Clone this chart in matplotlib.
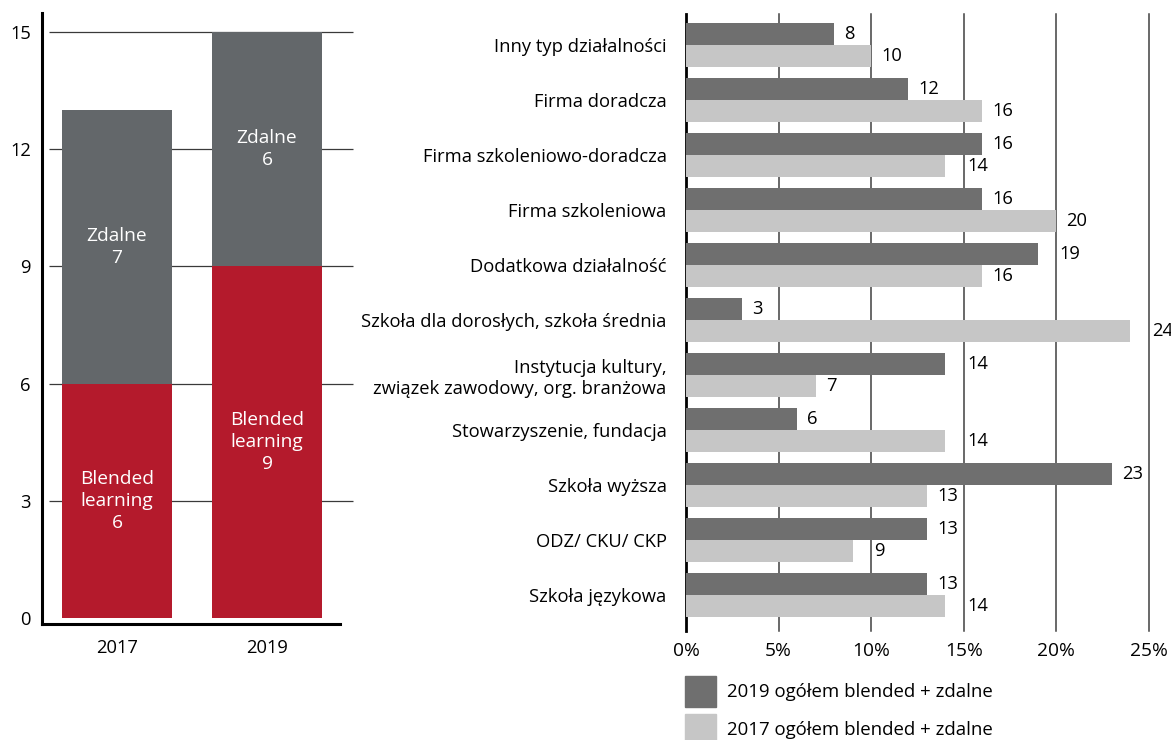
import math
import matplotlib
matplotlib.use('Agg')
import matplotlib.pyplot as plt
from matplotlib.patches import Rectangle
import numpy as np

plt.rcParams['font.family'] = ['Open Sans', 'DejaVu Sans']

# lewy wykres: liczba form kształcenia
lata = ['2017', '2019']
blended = [6, 9]
zdalne = [7, 6]

# prawy wykres: typ instytucji (%)
kategorie = [
    'Inny typ działalności',
    'Firma doradcza',
    'Firma szkoleniowo-doradcza',
    'Firma szkoleniowa',
    'Dodatkowa działalność',
    'Szkoła dla dorosłych, szkoła średnia',
    'Instytucja kultury,\nzwiązek zawodowy, org. branżowa',
    'Stowarzyszenie, fundacja',
    'Szkoła wyższa',
    'ODZ/ CKU/ CKP',
    'Szkoła językowa',
]
proc_2019 = [8, 12, 16, 16, 19, 3, 14, 6, 23, 13, 13]
proc_2017 = [10, 16, 14, 20, 16, 24, 7, 14, 13, 9, 14]
serie = ['2019 ogółem blended + zdalne', '2017 ogółem blended + zdalne']

czerwony = '#b41a2c'
szary = '#63676a'
ciemny = '#6f6f6f'
jasny = '#c6c6c6'
rozmiar = 13.2

fig = plt.figure(figsize=(11.71, 7.40), dpi=100)

# --- lewy wykres ---
ax1 = fig.add_axes([0.0359, 0.1568, 0.2545, 0.8257])
x = np.arange(len(lata))
ax1.bar(x, blended, width=0.73, color=czerwony, zorder=2)
ax1.bar(x, zdalne, bottom=blended, width=0.73, color=szary, zorder=2)
for i in range(len(lata)):
    ax1.text(x[i], blended[i] / 2, 'Blended\nlearning\n' + str(blended[i]),
             ha='center', va='center', color='white', fontsize=13.8,
             linespacing=1.3, zorder=3)
    ax1.text(x[i], blended[i] + zdalne[i] / 2, 'Zdalne\n' + str(zdalne[i]),
             ha='center', va='center', color='white', fontsize=13.8,
             linespacing=1.3, zorder=3)

ax1.set_xlim(-0.5, 1.487)
ax1.set_ylim(-0.154, 15.49)
ax1.set_yticks(range(0, 16, 3))
ax1.set_xticks(x)
ax1.set_xticklabels(lata)
ax1.hlines(range(3, 16, 3), -0.453, 1.573, colors='#3a3a3a', lw=0.9,
           zorder=1, clip_on=False)
for s in ['top', 'right']:
    ax1.spines[s].set_visible(False)
for s in ['left', 'bottom']:
    ax1.spines[s].set_linewidth(2.2)
    ax1.spines[s].set_color('black')
ax1.tick_params(axis='both', length=0, labelsize=rozmiar)
ax1.tick_params(axis='y', pad=8)
ax1.tick_params(axis='x', pad=11)

# --- prawy wykres ---
ax2 = fig.add_axes([0.5858, 0.1473, 0.3954, 0.8338])
y = np.arange(len(kategorie))
ax2.barh(y - 0.2, proc_2019, height=0.4, color=ciemny, zorder=2)
ax2.barh(y + 0.2, proc_2017, height=0.4, color=jasny, zorder=2)

ax2.set_xlim(0, 25)
ax2.set_ylim(10.655, -0.564)
ax2.set_xticks(range(0, 26, 5))
ax2.set_xticklabels([str(v) + '%' for v in range(0, 26, 5)])
ax2.set_yticks(y)
ax2.set_yticklabels(kategorie)
for g in range(5, 26, 5):
    ax2.axvline(g, color='#404040', lw=1.1, zorder=1, clip_on=False)
for s in ['top', 'right', 'bottom']:
    ax2.spines[s].set_visible(False)
ax2.spines['left'].set_linewidth(2)
ax2.spines['left'].set_color('black')
ax2.spines['left'].set_zorder(1)
ax2.tick_params(axis='both', length=0, labelsize=rozmiar)
ax2.tick_params(axis='x', labelsize=13.8, pad=8)
ax2.tick_params(axis='y', pad=14)

# etykiety wartości, przesunięte za linię siatki gdy by ją przecinały
def etykieta(v, yy):
    pos = v + 0.55
    nast = math.floor(v / 5) * 5 + 5
    if pos + 0.47 * len(str(v)) > nast:
        pos = nast + 0.17
    ax2.text(pos, yy, str(v), ha='left', va='center', fontsize=rozmiar,
             color='black', clip_on=False)

for i in range(len(kategorie)):
    etykieta(proc_2019[i], y[i] - 0.2)
    etykieta(proc_2017[i], y[i] + 0.2)

# legenda pod prawym wykresem
W, H = 1171, 740
for k, (kolor, opis) in enumerate(zip([ciemny, jasny], serie)):
    gora = 676 + k * 38
    fig.patches.append(Rectangle((685 / W, 1 - (gora + 31) / H), 31 / W, 31 / H,
                                 transform=fig.transFigure, color=kolor))
    fig.text(727 / W, 1 - (gora + 16) / H, opis, ha='left', va='center',
             fontsize=13.4)

fig.savefig('out.png', dpi=100)
